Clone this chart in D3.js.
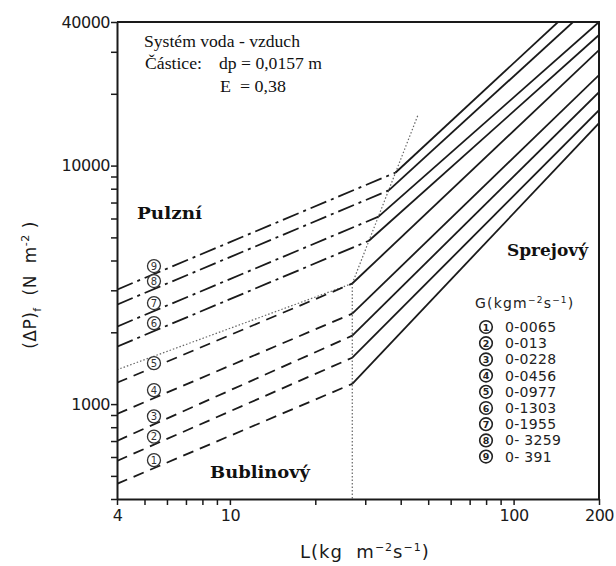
<!DOCTYPE html>
<html>
<head>
<meta charset="utf-8">
<script src="https://cdn.jsdelivr.net/npm/d3@7"></script>
<style>
  body { margin: 0; background: #fff; }
  svg { display: block; }
</style>
</head>
<body>
<div class="canvas"></div>
<script>
// Curves 1..9, values
const gLabels = ['0-0065', '0-013', '0-0228', '0-0456', '0-0977', '0-1303', '0-1955', '0- 3259', '0- 391']
// pressure drop at L = 4
const startDP = [463, 578, 701, 910, 1229, 1741, 2113, 2613, 3020]
// knee of each curve (regime change)
const kneeL = [27, 27, 27, 27, 27, 30.9, 33.4, 36.3, 38.4]
const kneeDP = [1216, 1565, 1936, 2396, 3203, 4839, 6106, 7872, 9357]
// where each curve leaves the frame
const endL = [200, 200, 200, 200, 200, 200, 200, 162, 143.4]
const endDP = [15064, 17080, 20320, 23960, 30510, 35270, 40000, 40000, 40000]

// regime boundaries (dotted)
const boundaryBubblePulse = [[4, 1393], [27, 3203]]
const boundarySpray = [[27, 3203], [46, 16270]]
const boundaryVertical = [[27, 3203], [27, 400]]

const xTickValues = [4, 5, 6, 7, 8, 9, 10, 20, 30, 40, 50, 60, 70, 80, 90, 100, 200]
const xTickLabels = [4, 10, 100, 200]
const yTickValues = [400, 500, 600, 700, 800, 900, 1000, 2000, 3000, 4000, 5000, 6000, 7000, 8000, 9000, 10000, 20000, 30000, 40000]
const yTickLabels = [1000, 10000, 40000]

const width = 616
const height = 566
const margin = {top: 22, right: 17, bottom: 67, left: 117}
const graphWidth = width - margin.left - margin.right
const graphHeight = height - margin.top - margin.bottom

const svg = d3.select('.canvas')
  .append('svg')
    .attr('width', width)
    .attr('height', height)

const graph = svg.append('g')
  .attr('transform', `translate(${margin.left},${margin.top})`)

// Scales
const x = d3.scaleLog().domain([4, 200]).range([0, graphWidth])
const y = d3.scaleLog().domain([400, 40000]).range([graphHeight, 0])

const ink = '#1a1a1a'

graph.append('clipPath').attr('id', 'plot')
  .append('rect')
    .attr('width', graphWidth)
    .attr('height', graphHeight)

const plot = graph.append('g').attr('clip-path', 'url(#plot)')

const line = d3.line()
  .x(d => x(d[0]))
  .y(d => y(d[1]))

// dotted regime boundaries
;[boundaryBubblePulse, boundarySpray, boundaryVertical].forEach(b => {
  plot.append('path')
    .attr('d', line(b))
    .attr('fill', 'none')
    .attr('stroke', '#666')
    .attr('stroke-width', 1.2)
    .attr('stroke-dasharray', '1.5,2')
})

// left segments: dashed for 1-5, dash-dot for 6-9
gLabels.forEach((g, i) => {
  plot.append('path')
    .attr('d', line([[4, startDP[i]], [kneeL[i], kneeDP[i]]]))
    .attr('fill', 'none')
    .attr('stroke', ink)
    .attr('stroke-width', 1.8)
    .attr('stroke-dasharray', i < 5 ? '11,7' : '17,5,3,5')

  plot.append('path')
    .attr('d', line([[kneeL[i], kneeDP[i]], [endL[i], endDP[i]]]))
    .attr('fill', 'none')
    .attr('stroke', ink)
    .attr('stroke-width', 1.8)
})

// circled curve numbers
const tagL = 5.4
gLabels.forEach((g, i) => {
  const t = Math.log(tagL / 4) / Math.log(kneeL[i] / 4)
  const dp = Math.exp(Math.log(startDP[i]) + t * (Math.log(kneeDP[i]) - Math.log(startDP[i])))
  const cx = x(tagL)
  const cy = y(dp) - (i === 4 ? 4 : 8)
  graph.append('circle')
    .attr('cx', cx).attr('cy', cy).attr('r', 6.5)
    .attr('fill', '#fff').attr('stroke', '#333').attr('stroke-width', 1.3)
  graph.append('text')
    .attr('x', cx).attr('y', cy + 3.5)
    .attr('text-anchor', 'middle')
    .attr('font-family', 'DejaVu Sans')
    .attr('font-size', 10)
    .attr('fill', '#333')
    .text(i + 1)
})

// Axes
const xAxis = d3.axisBottom(x)
  .tickValues(xTickValues)
  .tickSize(6)
  .tickSizeOuter(0)
  .tickPadding(5)
  .tickFormat(d => xTickLabels.includes(d) ? d : '')

const yAxis = d3.axisLeft(y)
  .tickValues(yTickValues)
  .tickSize(6)
  .tickSizeOuter(0)
  .tickPadding(1)
  .tickFormat(d => yTickLabels.includes(d) ? d : '')

const xAxisGroup = graph.append('g')
  .attr('transform', `translate(0, ${graphHeight})`)
  .call(xAxis)
const yAxisGroup = graph.append('g').call(yAxis)

;[xAxisGroup, yAxisGroup].forEach(a => {
  a.select('.domain').attr('stroke', ink).attr('stroke-width', 2)
  a.selectAll('.tick line').attr('stroke', ink).attr('stroke-width', 1.5)
  a.selectAll('text')
    .attr('font-family', 'DejaVu Sans')
    .attr('font-size', 16)
    .attr('fill', ink)
    .attr('letter-spacing', -0.5)
})

// frame top and right
graph.append('path')
  .attr('d', `M0,0H${graphWidth}V${graphHeight}`)
  .attr('fill', 'none')
  .attr('stroke', ink)
  .attr('stroke-width', 2)

// axis titles
svg.append('text')
  .attr('x', 300).attr('y', 558)
  .attr('font-family', 'DejaVu Sans')
  .attr('font-size', 18)
  .attr('fill', ink)
  .attr('letter-spacing', 1)
  .html('L(kg&#160;&#160;m<tspan dy="-7" font-size="11">−2</tspan><tspan dy="7">s</tspan><tspan dy="-7" font-size="11">−1</tspan><tspan dy="7">)</tspan>')

svg.append('text')
  .attr('transform', 'translate(36,285) rotate(-90)')
  .attr('text-anchor', 'middle')
  .attr('font-family', 'DejaVu Sans')
  .attr('font-size', 17)
  .attr('fill', ink)
  .attr('letter-spacing', 0.5)
  .html('(ΔP)<tspan dy="5" font-size="11">f</tspan><tspan dy="-5">&#160;&#160;(N&#160;&#160;m</tspan><tspan dy="-7" font-size="11">-2</tspan><tspan dy="7">&#160;)</tspan>')

// info box
const serif = 'Liberation Serif'
const info = [
  {t: 'Systém voda - vzduch', x: 144, y: 47, w: 156},
  {t: 'Částice:', x: 145, y: 69, w: 57},
  {t: 'dp = 0,0157 m', x: 219, y: 69, w: 103},
  {t: 'E  = 0,38', x: 220, y: 92, w: 66}
]
info.forEach(d => {
  svg.append('text')
    .attr('x', d.x).attr('y', d.y)
    .attr('font-family', serif)
    .attr('font-size', 16.5)
    .attr('fill', '#111')
    .attr('textLength', d.w)
    .attr('lengthAdjust', 'spacingAndGlyphs')
    .style('white-space', 'pre')
    .text(d.t)
})

// regime names
const regimes = [
  {t: 'Pulzní', x: 137, y: 219, w: 65},
  {t: 'Sprejový', x: 507, y: 256, w: 81},
  {t: 'Bublinový', x: 210, y: 478, w: 100}
]
regimes.forEach(d => {
  svg.append('text')
    .attr('x', d.x).attr('y', d.y)
    .attr('font-family', 'DejaVu Serif')
    .attr('font-weight', 'bold')
    .attr('font-size', 16.5)
    .attr('fill', '#111')
    .attr('textLength', d.w)
    .attr('lengthAdjust', 'spacingAndGlyphs')
    .text(d.t)
})

// legend
svg.append('text')
  .attr('x', 475).attr('y', 308)
  .attr('font-family', 'DejaVu Sans')
  .attr('font-size', 14)
  .attr('fill', '#222')
  .attr('letter-spacing', 1.2)
  .html('G(kgm<tspan dy="-5" font-size="9">−2</tspan><tspan dy="5">s</tspan><tspan dy="-5" font-size="9">−1</tspan><tspan dy="5">)</tspan>')

const legend = svg.append('g')
gLabels.forEach((g, i) => {
  const ly = 327 + i * 16.2
  legend.append('circle')
    .attr('cx', 486).attr('cy', ly).attr('r', 6.3)
    .attr('fill', 'none').attr('stroke', '#222').attr('stroke-width', 1.6)
  legend.append('text')
    .attr('x', 486).attr('y', ly + 3.5)
    .attr('text-anchor', 'middle')
    .attr('font-family', 'DejaVu Sans')
    .attr('font-size', 9.5)
    .attr('font-weight', 'bold')
    .attr('fill', '#222')
    .text(i + 1)
  legend.append('text')
    .attr('x', 505).attr('y', ly + 5)
    .attr('font-family', 'DejaVu Sans')
    .attr('font-size', 14)
    .attr('fill', '#222')
    .attr('letter-spacing', 0.3)
    .style('white-space', 'pre')
    .text(g)
})
</script>
</body>
</html>
